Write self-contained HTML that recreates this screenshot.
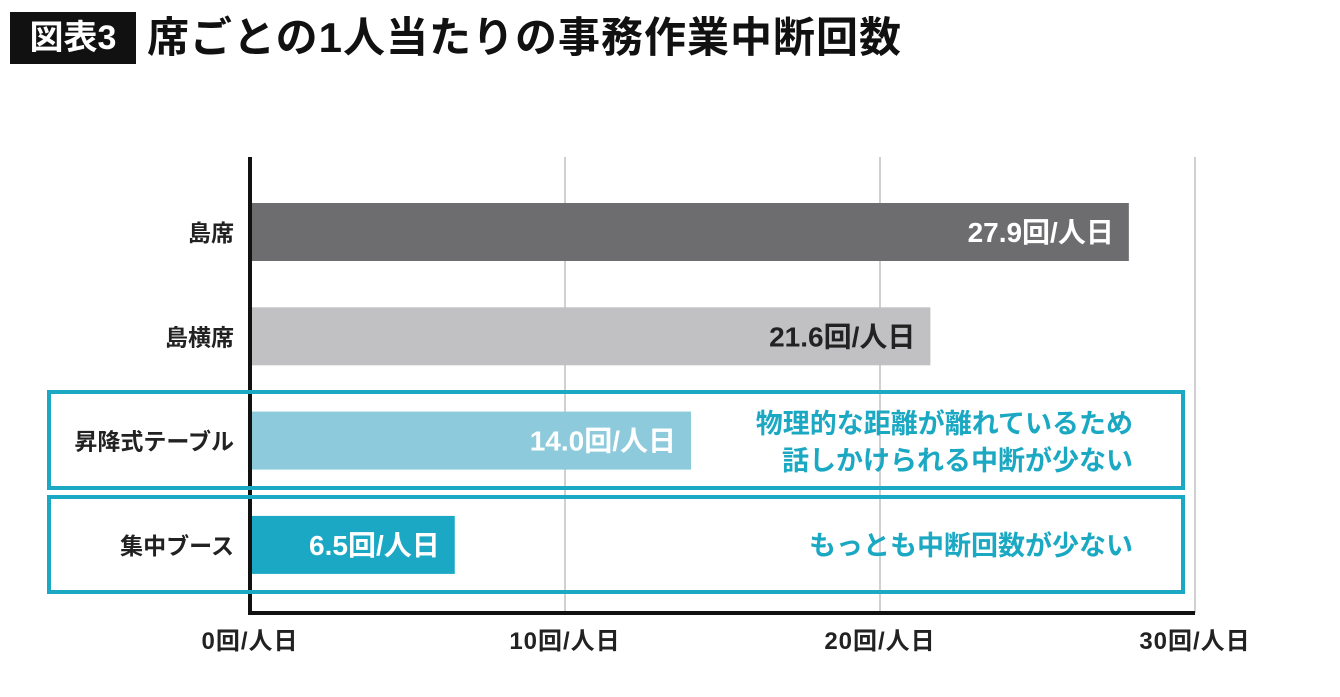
<!DOCTYPE html>
<html><head><meta charset="utf-8"><style>
body{margin:0;width:1340px;height:697px;background:#fff;overflow:hidden;font-family:"Liberation Sans","Noto Sans CJK JP",sans-serif;}
#t1{position:absolute;left:10px;top:12px;width:126px;height:52px;background:#111;color:#fff;font-size:34px;font-weight:bold;line-height:52px;text-align:center;}
#t2{position:absolute;left:147px;top:10px;height:56px;line-height:56px;font-size:42px;color:#111;font-weight:bold;letter-spacing:1px;}
</style></head><body>
<div id="t1">図表3</div>
<div id="t2">席ごとの1人当たりの事務作業中断回数</div>
<svg id="c" width="1340" height="697" style="position:absolute;left:0;top:0"></svg>
<script>
const categories=["島席","島横席","昇降式テーブル","集中ブース"];
const values=[27.9,21.6,14.0,6.5];
const valueLabels=["27.9回/人日","21.6回/人日","14.0回/人日","6.5回/人日"];
const ticks=[0,10,20,30];
const tickLabels=["0回/人日","10回/人日","20回/人日","30回/人日"];
const colors=["#6d6d6f","#c1c1c3","#8dcadb","#1ba8c4"];
const labelColors=["#fff","#222","#fff","#fff"];
const NS="http://www.w3.org/2000/svg",svg=document.getElementById("c");
const x=v=>250+v*31.5;
const yTop=i=>203+i*104.3;
function el(t,a,txt){const e=document.createElementNS(NS,t);for(const k in a)e.setAttribute(k,a[k]);if(txt!=null)e.textContent=txt;svg.appendChild(e);return e;}
ticks.forEach((t,i)=>{
 if(t>0){const g=el("line",{x1:x(t),x2:x(t),y1:157,y2:613,stroke:"#d0d0d0","stroke-width":2});
 
 }
 const l=el("text",{x:x(t),y:649,"text-anchor":"middle","font-size":24,"font-weight":"bold",fill:"#222","letter-spacing":1},tickLabels[i]);
 
 
});
values.forEach((v,i)=>{
 const y=yTop(i);
 const b=el("rect",{x:250,y:y,width:x(v)-250,height:58,fill:colors[i]});
 
 
 const vl=el("text",{x:x(v)-15,y:y+39,"text-anchor":"end","font-size":28,"font-weight":"bold",fill:labelColors[i]},valueLabels[i]);
 
 
 const cl=el("text",{x:234,y:y+38,"text-anchor":"end","font-size":23,"font-weight":"bold",fill:"#222"},categories[i]);
 
 
});
const ax=el("path",{d:"M250 157 V613 H1195",fill:"none",stroke:"#111","stroke-width":4});


[[392,488],[497,592]].forEach(([a,b])=>{
 const r=el("rect",{x:49,y:a,width:1134,height:b-a,fill:"none",stroke:"#1aa8c2","stroke-width":4});
 
 
});
[["物理的な距離が離れているため",433],["話しかけられる中断が少ない",470],["もっとも中断回数が少ない",555]].forEach(([s,y])=>{
 const t=el("text",{x:1133,y:y,"text-anchor":"end","font-size":27,"font-weight":"bold",fill:"#1aa8c2"},s);
 
 
});
</script>
</body></html>
